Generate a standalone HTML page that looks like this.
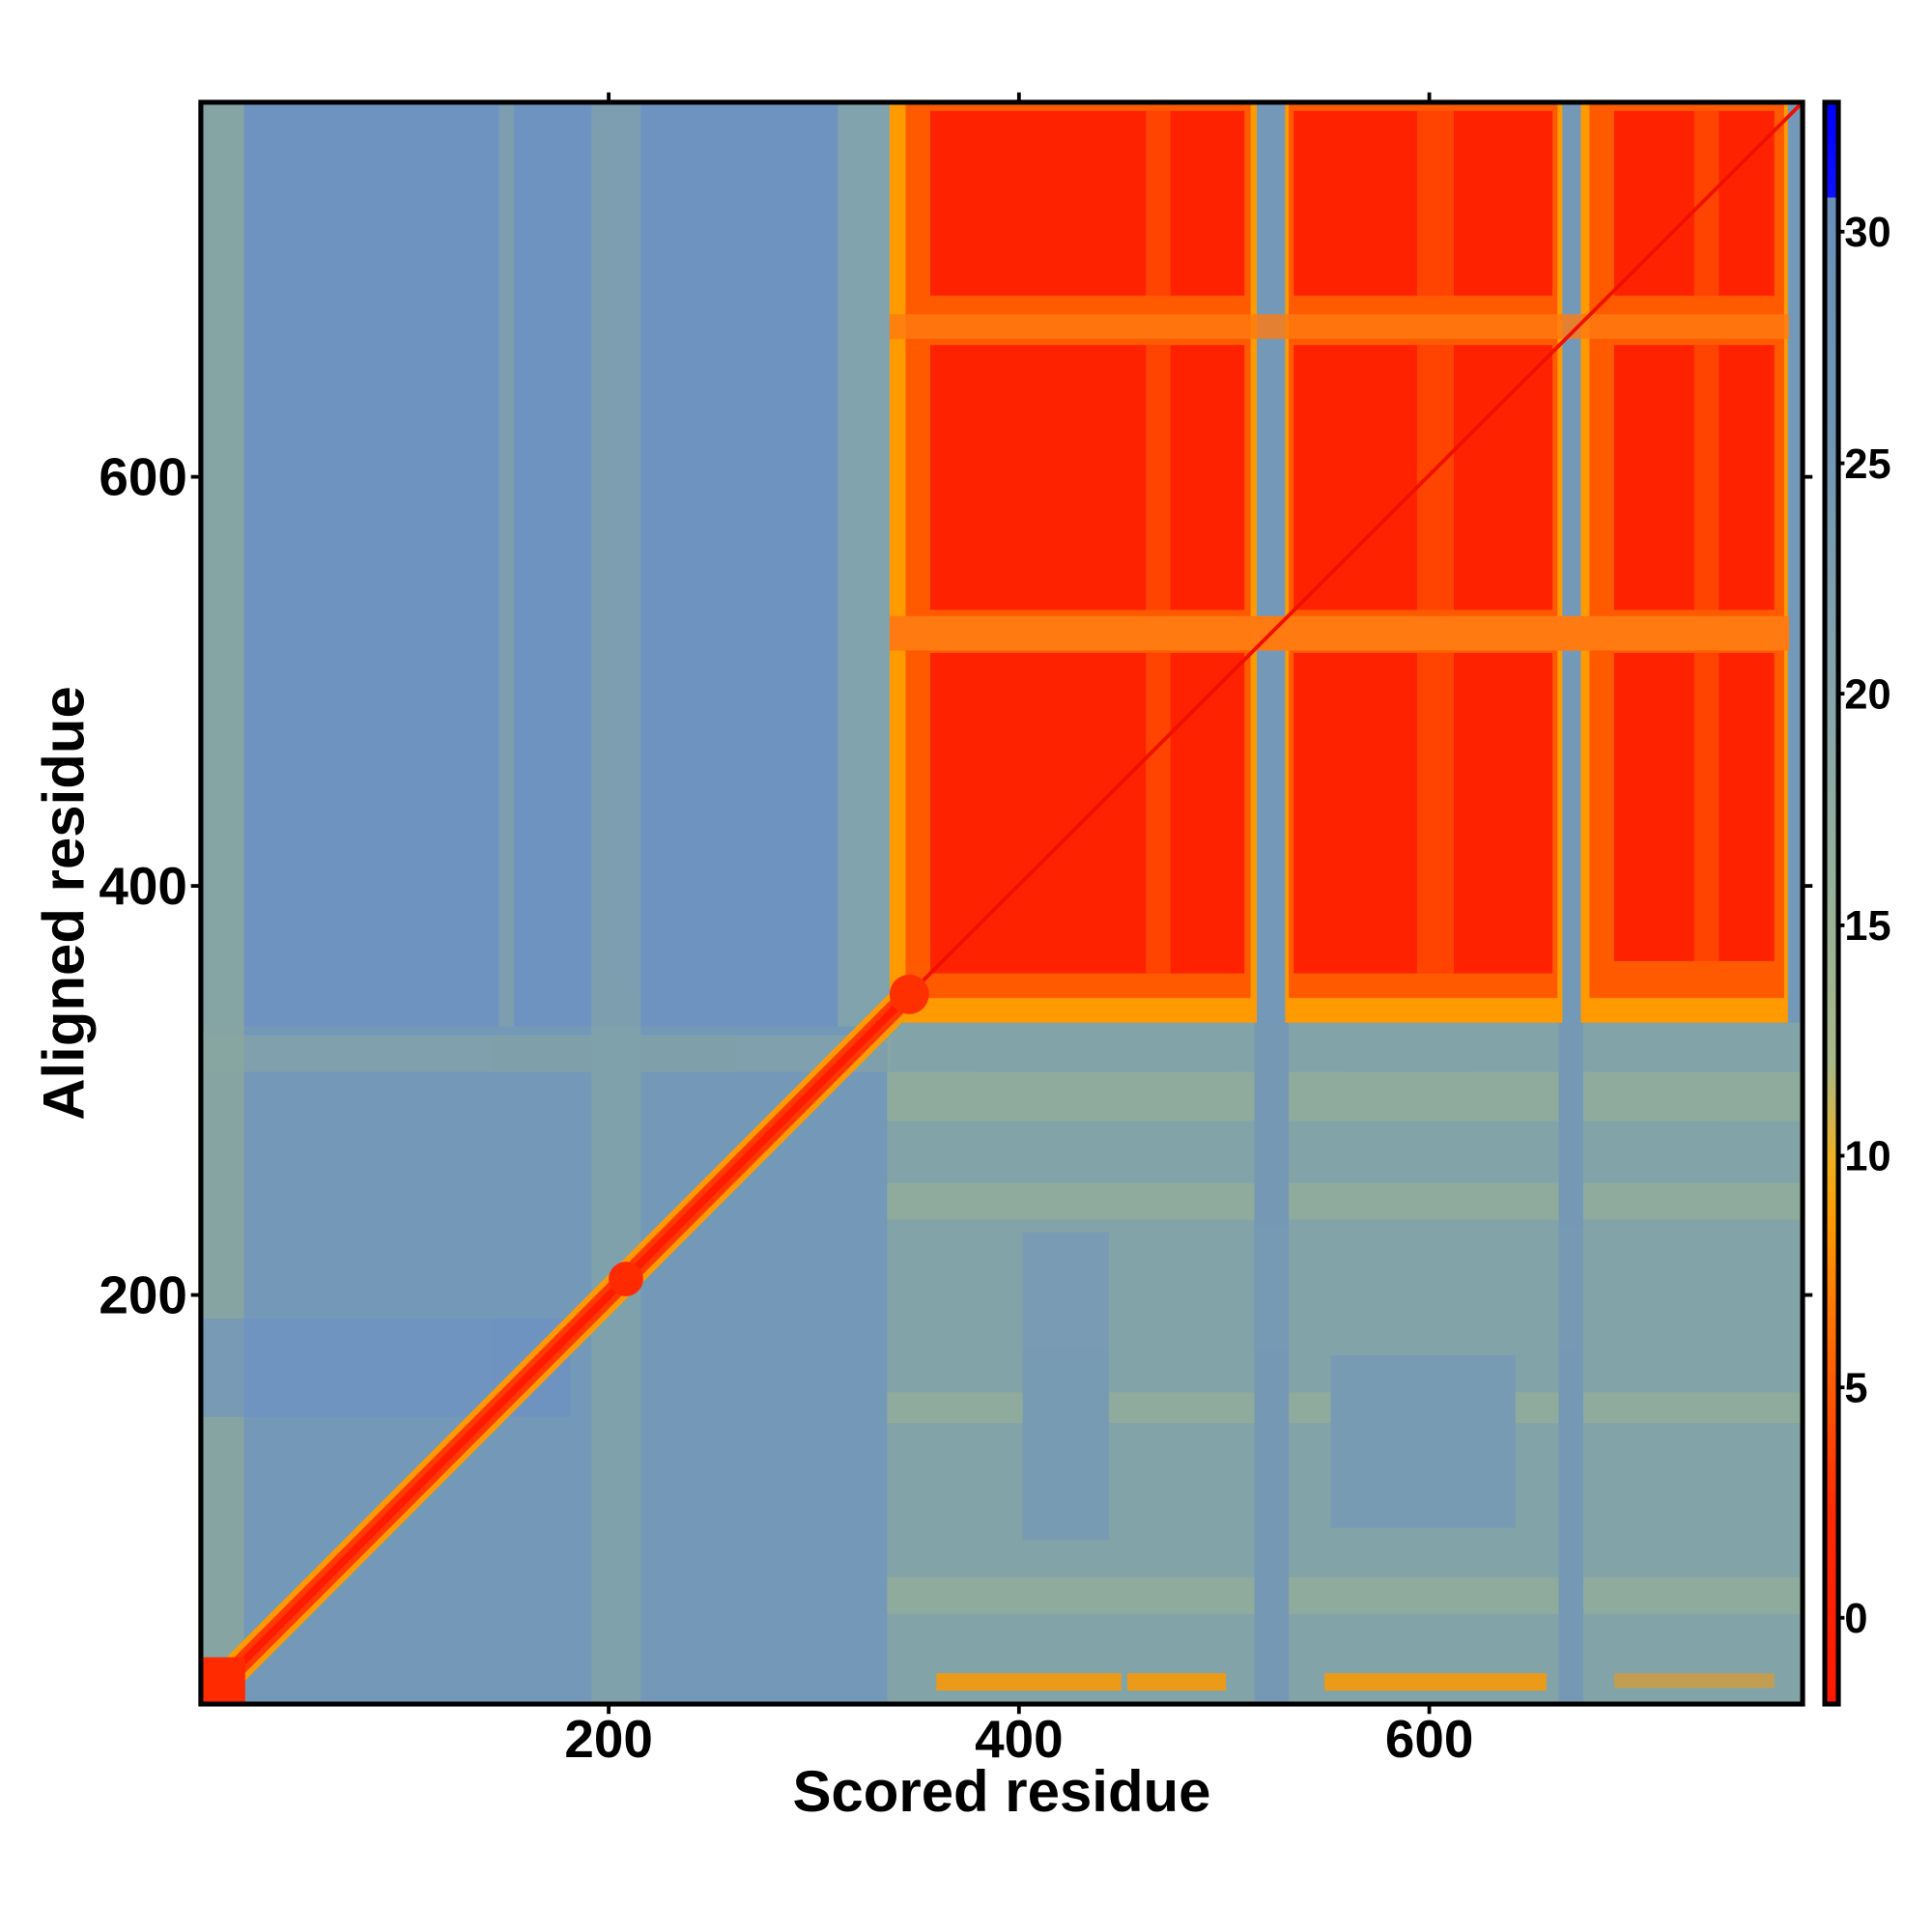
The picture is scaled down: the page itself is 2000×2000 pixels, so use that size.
<!DOCTYPE html>
<html><head><meta charset="utf-8"><style>html,body{margin:0;padding:0;background:#fff}svg{display:block}</style></head>
<body>
<svg width="2000" height="2000" viewBox="0 0 1568 1568" xmlns="http://www.w3.org/2000/svg" font-family="Liberation Sans, sans-serif" font-weight="bold">
<defs>
<linearGradient id="cb" x1="0" y1="1" x2="0" y2="0">
<stop offset="0" stop-color="#ff1800"/>
<stop offset="0.12" stop-color="#ff2a00"/>
<stop offset="0.2" stop-color="#ff5a00"/>
<stop offset="0.3" stop-color="#ff9a00"/>
<stop offset="0.34" stop-color="#f0b020"/>
<stop offset="0.4" stop-color="#a8b888"/>
<stop offset="0.6" stop-color="#8aa8a8"/>
<stop offset="0.8" stop-color="#6f95b5"/>
<stop offset="0.94" stop-color="#6a90ba"/>
<stop offset="0.941" stop-color="#1010ff"/>
<stop offset="1" stop-color="#0000ff"/>
</linearGradient>
<clipPath id="pc"><rect x="163" y="83" width="1300" height="1300"/></clipPath>
</defs>
<g clip-path="url(#pc)">
<rect x="163" y="83" width="1300" height="1300" fill="#7498b8"/>
<rect x="163" y="83" width="560" height="750" fill="#6f93c0"/>
<rect x="163" y="83" width="35" height="1300" fill="#8eab98" opacity="0.7"/>
<rect x="680" y="83" width="45" height="750" fill="#86a8a8" opacity="0.8"/>
<rect x="720" y="830" width="743" height="553" fill="#82a3a8"/>
<g opacity="0.5">
<rect x="163" y="840" width="560" height="30" fill="#8aa8a0"/>
<rect x="720" y="870" width="743" height="40" fill="#9bb394"/>
<rect x="720" y="960" width="743" height="30" fill="#9bb394"/>
<rect x="720" y="1130" width="743" height="25" fill="#9bb394"/>
<rect x="720" y="1280" width="743" height="30" fill="#9bb394"/>
<rect x="1018" y="830" width="28" height="553" fill="#6a90c0"/>
<rect x="1265" y="830" width="20" height="553" fill="#6a90c0"/>
<rect x="830" y="1000" width="70" height="250" fill="#6f95c0"/>
<rect x="1080" y="1100" width="150" height="140" fill="#6f95c0"/>
<rect x="480" y="83" width="40" height="1300" fill="#8aaaa0"/>
<rect x="405" y="83" width="12" height="750" fill="#8aaaa0"/>
<rect x="163" y="1070" width="300" height="80" fill="#6a90c8"/>
</g>
<rect x="722" y="85" width="298" height="745" fill="#ff9a00"/>
<rect x="1043" y="85" width="225" height="745" fill="#ff9a00"/>
<rect x="1283" y="85" width="168" height="745" fill="#ff9a00"/>
<rect x="735" y="85" width="280" height="725" fill="#ff5a00"/>
<rect x="1046" y="85" width="218" height="725" fill="#ff5a00"/>
<rect x="1290" y="85" width="158" height="725" fill="#ff5a00"/>
<g fill="#ff2200">
<rect x="755" y="90" width="255" height="150"/>
<rect x="755" y="280" width="255" height="215"/>
<rect x="755" y="530" width="255" height="260"/>
<rect x="1050" y="90" width="210" height="150"/>
<rect x="1050" y="280" width="210" height="215"/>
<rect x="1050" y="530" width="210" height="260"/>
<rect x="1310" y="90" width="130" height="150"/>
<rect x="1310" y="280" width="130" height="215"/>
<rect x="1310" y="530" width="130" height="250"/>
</g>
<g fill="#ff5a00" opacity="0.6">
<rect x="930" y="90" width="20" height="700"/>
<rect x="1150" y="90" width="30" height="700"/>
<rect x="1375" y="90" width="20" height="700"/>
</g>
<rect x="722" y="500" width="730" height="28" fill="#ff7a10"/>
<rect x="722" y="255" width="730" height="20" fill="#ff7a10" opacity="0.8"/>
<g fill="#ff9a00" opacity="0.85">
<rect x="760" y="1358" width="150" height="14"/>
<rect x="915" y="1358" width="80" height="14"/>
<rect x="1075" y="1358" width="180" height="14"/>
<rect x="1310" y="1358" width="130" height="12" opacity="0.6"/>
</g>
<line x1="150" y1="1396" x2="730" y2="815" stroke="#ff9a00" stroke-width="24"/>
<line x1="150" y1="1396" x2="730" y2="815" stroke="#ff3a00" stroke-width="15"/>
<line x1="150" y1="1396" x2="730" y2="815" stroke="#ff1a00" stroke-width="6"/>
<line x1="730" y1="815" x2="1463" y2="83" stroke="#f01000" stroke-width="3"/>
<circle cx="738" cy="807" r="16" fill="#ff3000"/>
<circle cx="508" cy="1038" r="14" fill="#ff2a00"/>
<rect x="163" y="1345" width="36" height="38" fill="#ff2a00"/>
</g>
<rect x="163" y="83" width="1300" height="1300" fill="none" stroke="#000" stroke-width="4"/>
<g stroke="#000" stroke-width="3">
<line x1="494" y1="83" x2="494" y2="75"/><line x1="827" y1="83" x2="827" y2="75"/><line x1="1160" y1="83" x2="1160" y2="75"/>
<line x1="494" y1="1383" x2="494" y2="1391"/><line x1="827" y1="1383" x2="827" y2="1391"/><line x1="1160" y1="1383" x2="1160" y2="1391"/>
<line x1="163" y1="387" x2="155" y2="387"/><line x1="163" y1="719" x2="155" y2="719"/><line x1="163" y1="1051" x2="155" y2="1051"/>
<line x1="1463" y1="387" x2="1471" y2="387"/><line x1="1463" y1="719" x2="1471" y2="719"/><line x1="1463" y1="1051" x2="1471" y2="1051"/>
</g>
<g font-size="43" text-anchor="middle">
<text x="494" y="1426">200</text><text x="827" y="1426">400</text><text x="1160" y="1426">600</text>
</g>
<g font-size="43" text-anchor="end">
<text x="152" y="402">600</text><text x="152" y="734">400</text><text x="152" y="1066">200</text>
</g>
<text x="813" y="1470" font-size="47" text-anchor="middle">Scored residue</text>
<text transform="translate(68,733) rotate(-90)" font-size="47" text-anchor="middle">Aligned residue</text>
<rect x="1481" y="83" width="11" height="1300" fill="url(#cb)" stroke="#000" stroke-width="4"/>
<g stroke="#000" stroke-width="3">
<line x1="1492" y1="188" x2="1497" y2="188"/><line x1="1492" y1="376" x2="1497" y2="376"/><line x1="1492" y1="563" x2="1497" y2="563"/>
<line x1="1492" y1="751" x2="1497" y2="751"/><line x1="1492" y1="938" x2="1497" y2="938"/><line x1="1492" y1="1126" x2="1497" y2="1126"/><line x1="1492" y1="1313" x2="1497" y2="1313"/>
</g>
<g font-size="34">
<text x="1497" y="200">30</text><text x="1497" y="388">25</text><text x="1497" y="575">20</text>
<text x="1497" y="763">15</text><text x="1497" y="950">10</text><text x="1497" y="1138">5</text><text x="1497" y="1325">0</text>
</g>
</svg>
</body></html>
